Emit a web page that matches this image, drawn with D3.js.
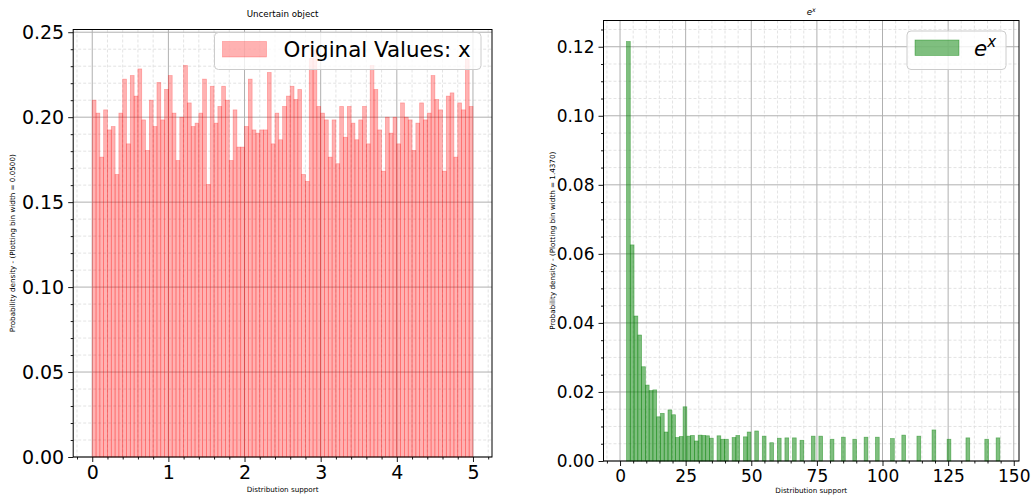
<!DOCTYPE html>
<html>
<head>
<meta charset="utf-8">
<script src="https://cdn.jsdelivr.net/npm/d3@7"></script>
<style>
  html, body { margin: 0; padding: 0; background: #ffffff; }
  svg { display: block; }
  text { font-family: "DejaVu Sans", "Liberation Sans", sans-serif; fill: #000; }
</style>
</head>
<body>
<svg id="chart" width="1036" height="496"></svg>
<script>
// ---- Left panel: density of the original values x (bin width 0.05 on [0, 5]) ----
const xBinStart = 0;
const xBinWidth = 0.05;
const xDensity = [
  0.2100, 0.2024, 0.1765, 0.2043, 0.1925, 0.1945, 0.1663, 0.2024, 0.2224, 0.1843,
  0.2245, 0.2124, 0.2284, 0.1984, 0.1804, 0.2100, 0.1945, 0.2204, 0.1984, 0.2163,
  0.2245, 0.2024, 0.1745, 0.2000, 0.2304, 0.2084, 0.1945, 0.1965, 0.2024, 0.2224,
  0.1604, 0.2182, 0.1965, 0.2063, 0.2182, 0.2100, 0.1745, 0.2043, 0.1824, 0.1824,
  0.1945, 0.2224, 0.1925, 0.1906, 0.1925, 0.1925, 0.2263, 0.1843, 0.2024, 0.1867,
  0.2063, 0.2124, 0.2182, 0.2104, 0.2163, 0.1663, 0.1622, 0.2345, 0.2395, 0.2063,
  0.2024, 0.1984, 0.1765, 0.1984, 0.1726, 0.2063, 0.1882, 0.2063, 0.1965, 0.1867,
  0.1984, 0.2063, 0.1843, 0.2304, 0.2163, 0.1925, 0.1682, 0.2000, 0.1906, 0.2000,
  0.1843, 0.2084, 0.2000, 0.1984, 0.1804, 0.1965, 0.2084, 0.1984, 0.2024, 0.2245,
  0.2104, 0.2043, 0.1682, 0.2124, 0.2143, 0.1765, 0.2084, 0.2043, 0.2343, 0.2063
];
const xTicks = [0, 1, 2, 3, 4, 5];
const xDensityTicks = [0, 0.05, 0.10, 0.15, 0.20, 0.25];
const xLimits = [-0.25, 5.25];
const xDensityMax = 0.2516;

// ---- Right panel: density of e^x (bin width 1.437) ----
const expBinStart = 2.462;
const expBinWidth = 1.437;
const expDensity = [
  0.1215, 0.0626, 0.0420, 0.0365, 0.0273, 0.0220, 0.0204, 0.0206, 0.0128, 0.0138,
  0.0084, 0.0148, 0.0134, 0.0068, 0.0071, 0.0157, 0.0072, 0.0074, 0.0058, 0.0075,
  0.0074, 0.0073, 0.0066, 0,      0.0073, 0.0063, 0.0063, 0,      0.0068, 0.0074,
  0,      0.0070, 0.0084, 0,      0.0087, 0,      0.0072, 0,      0.0053, 0,
  0.0066, 0,      0.0067, 0,      0.0067, 0,      0.0060, 0,      0,      0.0072,
  0,      0.0072, 0,      0,      0.0063, 0,      0,      0.0069, 0,      0,
  0.0063, 0,      0,      0.0069, 0,      0,      0.0069, 0,      0,      0,
  0.0065, 0,      0,      0.0075, 0,      0,      0,      0.0072, 0,      0,
  0,      0.0090, 0,      0,      0,      0.0063, 0,      0,      0,      0,
  0.0067, 0,      0,      0,      0,      0.0063, 0,      0,      0.0067
];
const expTicks = [0, 25, 50, 75, 100, 125, 150];
const expDensityTicks = [0, 0.02, 0.04, 0.06, 0.08, 0.10, 0.12];
const expLimits = [-6.3, 152.0];
const expDensityMax = 0.1276;

const svg = d3.select("#chart");

function drawPanel(cfg) {
  const x = d3.scaleLinear().domain(cfg.xDomain).range([cfg.left, cfg.right]);
  const y = d3.scaleLinear().domain([0, cfg.yMax]).range([cfg.bottom, cfg.top]);
  const g = svg.append("g");

  // minor grid (dashed)
  const grid = g.append("g");
  grid.selectAll("line.vmin").data(cfg.xMinor).join("line")
    .attr("x1", d => x(d)).attr("x2", d => x(d))
    .attr("y1", cfg.top).attr("y2", cfg.bottom)
    .attr("stroke", "#dcdcdc").attr("stroke-width", 0.8).attr("stroke-dasharray", "3,2");
  grid.selectAll("line.hmin").data(cfg.yMinor).join("line")
    .attr("x1", cfg.left).attr("x2", cfg.right)
    .attr("y1", d => y(d)).attr("y2", d => y(d))
    .attr("stroke", "#dcdcdc").attr("stroke-width", 0.8).attr("stroke-dasharray", "3,2");
  // major grid (solid)
  grid.selectAll("line.vmaj").data(cfg.xTicks).join("line")
    .attr("x1", d => x(d)).attr("x2", d => x(d))
    .attr("y1", cfg.top).attr("y2", cfg.bottom)
    .attr("stroke", "#b0b0b0").attr("stroke-width", 1);
  grid.selectAll("line.hmaj").data(cfg.yTicks).join("line")
    .attr("x1", cfg.left).attr("x2", cfg.right)
    .attr("y1", d => y(d)).attr("y2", d => y(d))
    .attr("stroke", "#b0b0b0").attr("stroke-width", 1);

  // bars
  const bars = cfg.values.map((v, i) => ({ x0: cfg.binStart + i * cfg.binWidth, v }))
    .filter(d => d.v > 0);
  g.append("g").selectAll("rect").data(bars).join("rect")
    .attr("x", d => x(d.x0))
    .attr("width", d => x(d.x0 + cfg.binWidth) - x(d.x0))
    .attr("y", d => y(d.v))
    .attr("height", d => y(0) - y(d.v))
    .attr("fill", cfg.color).attr("fill-opacity", cfg.alpha)
    .attr("stroke", cfg.color).attr("stroke-opacity", cfg.alpha).attr("stroke-width", 0.7);

  // frame
  g.append("rect")
    .attr("x", cfg.left).attr("y", cfg.top)
    .attr("width", cfg.right - cfg.left).attr("height", cfg.bottom - cfg.top)
    .attr("fill", "none").attr("stroke", "#000").attr("stroke-width", 1);

  // axes
  const styleAxis = sel => {
    sel.select(".domain").remove();
    sel.selectAll(".tick line").attr("stroke", "#000").attr("stroke-width", 0.9);
    sel.selectAll(".tick text").attr("font-family", "DejaVu Sans").attr("font-size", cfg.tickFont).attr("fill", "#000");
  };
  g.append("g").attr("transform", `translate(0,${cfg.bottom})`)
    .call(d3.axisBottom(x).tickValues(cfg.xMinor).tickFormat("").tickSize(2.5)).call(styleAxis);
  g.append("g").attr("transform", `translate(0,${cfg.bottom})`)
    .call(d3.axisBottom(x).tickValues(cfg.xTicks).tickFormat(d3.format("d")).tickSize(5).tickPadding(4))
    .call(styleAxis);
  g.append("g").attr("transform", `translate(${cfg.left},0)`)
    .call(d3.axisLeft(y).tickValues(cfg.yMinor).tickFormat("").tickSize(2.5)).call(styleAxis);
  g.append("g").attr("transform", `translate(${cfg.left},0)`)
    .call(d3.axisLeft(y).tickValues(cfg.yTicks).tickFormat(d3.format(".2f")).tickSize(5).tickPadding(4))
    .call(styleAxis);

  // x label
  g.append("text")
    .attr("x", (cfg.left + cfg.right) / 2).attr("y", cfg.xLabelY)
    .attr("text-anchor", "middle").attr("font-size", 7.2)
    .text("Distribution support");
  // y label
  g.append("text")
    .attr("transform", `translate(${cfg.yLabelX},${(cfg.top + cfg.bottom) / 2}) rotate(-90)`)
    .attr("text-anchor", "middle").attr("font-size", 7.2)
    .text(cfg.yLabel);

  return { x, y, g };
}

function minorTicks(domain, step, majors) {
  const start = Math.ceil(domain[0] / step) * step;
  const out = [];
  for (let v = start; v <= domain[1] + 1e-9; v += step) {
    const r = Math.round(v / step) * step;
    if (!majors.some(m => Math.abs(m - r) < step / 10)) out.push(+r.toFixed(6));
  }
  return out;
}

// Left panel
const left = drawPanel({
  left: 73.2, right: 492, top: 29.5, bottom: 457,
  xDomain: xLimits, yMax: xDensityMax,
  xTicks: xTicks, yTicks: xDensityTicks,
  xMinor: minorTicks(xLimits, 0.2, xTicks),
  yMinor: minorTicks([0, xDensityMax], 0.01, xDensityTicks),
  values: xDensity, binStart: xBinStart, binWidth: xBinWidth,
  color: "#ff0000", alpha: 0.3,
  tickFont: 19, xLabelY: 491.5, yLabelX: 15,
  yLabel: "Probability density - (Plotting bin width = 0.0500)"
});
left.g.append("text")
  .attr("x", (73.2 + 492) / 2).attr("y", 17)
  .attr("text-anchor", "middle").attr("font-size", 8.7)
  .text("Uncertain object");

// Right panel
const right = drawPanel({
  left: 603.5, right: 1019, top: 20.5, bottom: 461,
  xDomain: expLimits, yMax: expDensityMax,
  xTicks: expTicks, yTicks: expDensityTicks,
  xMinor: minorTicks(expLimits, 5, expTicks),
  yMinor: minorTicks([0, expDensityMax], 0.005, expDensityTicks),
  values: expDensity, binStart: expBinStart, binWidth: expBinWidth,
  color: "#008000", alpha: 0.5,
  tickFont: 17, xLabelY: 492.5, yLabelX: 555,
  yLabel: "Probability density - (Plotting bin width = 1.4370)"
});
const rt = right.g.append("text")
  .attr("x", (603.5 + 1019) / 2).attr("y", 15)
  .attr("text-anchor", "middle").attr("font-size", 8.7).attr("font-style", "italic");
rt.append("tspan").text("e");
rt.append("tspan").attr("font-size", 6.2).attr("dy", -3.5).text("x");

// Legends
function legend(g, box, color, alpha) {
  g.append("rect")
    .attr("x", box.x).attr("y", box.y).attr("width", box.w).attr("height", box.h)
    .attr("rx", 4).attr("ry", 4)
    .attr("fill", "#ffffff").attr("fill-opacity", 0.8)
    .attr("stroke", "#cccccc").attr("stroke-width", 1);
  g.append("rect")
    .attr("x", box.x + 8).attr("y", box.y + 9).attr("width", 44).attr("height", 15.5)
    .attr("fill", color).attr("fill-opacity", alpha)
    .attr("stroke", color).attr("stroke-opacity", alpha).attr("stroke-width", 0.7);
}
legend(left.g, { x: 214.5, y: 32.5, w: 266.5, h: 37 }, "#ff0000", 0.3);
left.g.append("text")
  .attr("x", 283.5).attr("y", 56.5).attr("font-size", 21.4)
  .text("Original Values: x");

legend(right.g, { x: 907, y: 31, w: 99, h: 38.5 }, "#008000", 0.5);
const lt = right.g.append("text")
  .attr("x", 974).attr("y", 56).attr("font-size", 21.4).attr("font-style", "italic");
lt.append("tspan").text("e");
lt.append("tspan").attr("font-size", 15).attr("dy", -9).text("x");
</script>
</body>
</html>
